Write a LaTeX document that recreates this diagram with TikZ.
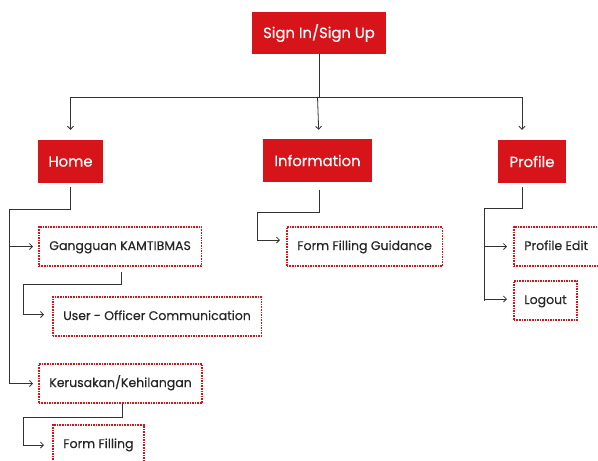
\documentclass[tikz,border=0pt]{standalone}
\usepackage{fontspec}
\setmainfont{Poppins}
\newfontfamily\medfont{Poppins}[FakeBold=0.4]
\usepackage{tikz}
\usetikzlibrary{arrows.meta}
\definecolor{menured}{RGB}{215,20,26}
\definecolor{wire}{RGB}{50,50,50}

\begin{document}
\begin{tikzpicture}[x=1pt,y=-1pt,
    menu/.style={fill=menured, text=white, inner sep=0pt, font=\medfont\fontsize{14.8}{17}\selectfont},
    sub/.style={draw=menured, densely dotted, line width=1.6pt, inner xsep=10.5pt, inner ysep=0pt,
        minimum height=39pt, text height=9.5pt, text depth=2.5pt, anchor=west,
        text=black!85, font=\medfont\fontsize{12.5}{15}\selectfont},
    wire/.style={draw=wire, line width=0.8pt},
    arr/.style={wire, -{Straight Barb[length=3pt,width=6pt]}}]
    \useasboundingbox (0,0) rectangle (598,461);
    % top level
    \node[menu, minimum width=134pt, minimum height=42pt] (signin) at (319,33) {Sign In/Sign Up};
    \node[menu, minimum width=65pt, minimum height=43pt] (home) at (70.5,161.5) {Home};
    \node[menu, minimum width=109pt, minimum height=43pt] (info) at (317.5,160.5) {Information};
    \node[menu, minimum width=68pt, minimum height=43pt] (profile) at (532,161.5) {Profile};
    % sub pages
    \node[sub] (gangguan) at (38,246.5) {Gangguan KAMTIBMAS};
    \node[sub] (user) at (52,316.5) {User - Officer Communication};
    \node[sub] (kerusakan) at (38,383.5) {Kerusakan/Kehilangan};
    \node[sub] (form) at (52,444.5) {Form Filling};
    \node[sub] (guide) at (286,246.5) {Form Filling Guidance};
    \node[sub] (pedit) at (513,246.5) {Profile Edit};
    \node[sub] (logout) at (513,300.5) {Logout};
    % junction points
    \coordinate (bus) at (0,97);
    \coordinate (htrunk) at (9,209);
    \coordinate (gtrunk) at (23,284);
    \coordinate (ktrunk) at (23,417);
    \coordinate (itrunk) at (257,212);
    \coordinate (ptrunk) at (484,208);
    % connectors
    \draw[wire] (signin.south) -- (signin.south |- bus);
    \draw[arr, shorten >=10pt] ([xshift=-10pt]profile.north |- bus) -- (home.north |- bus) -- (home.north);
    \draw[arr, shorten >=9pt] (info.north |- bus) -- ([xshift=1.5pt]info.north);
    \draw[arr, shorten >=10pt] ([xshift=-10pt]profile.north |- bus) -- ([xshift=-10pt]profile.north);
    \draw[wire, shorten <=4pt] (home.south) -- (home.south |- htrunk) -- (htrunk) -- (htrunk |- kerusakan);
    \draw[arr, shorten >=5pt] (htrunk |- gangguan) -- (gangguan.west);
    \draw[arr, shorten >=5pt] (htrunk |- kerusakan) -- (kerusakan.west);
    \draw[arr, shorten <=6pt, shorten >=8pt] (121.7,266) -- (121.7,284) -- (gtrunk) |- ([yshift=2pt]user.west);
    \draw[arr, shorten <=1pt, shorten >=8pt] (122.7,403) -- (122.7,417) -- (ktrunk) |- ([yshift=-0.5pt]form.west);
    \draw[arr, shorten <=8pt, shorten >=6pt] ([xshift=1.5pt]info.south) -- ([xshift=1.5pt]info.south |- itrunk) -- (itrunk) |- ([yshift=6.5pt]guide.west);
    \draw[wire, shorten <=4pt] ([xshift=-10pt]profile.south) -- ([xshift=-10pt]profile.south |- ptrunk) -- (ptrunk) -- (ptrunk |- logout);
    \draw[arr, shorten >=6pt] (ptrunk |- pedit) -- (pedit.west);
    \draw[arr, shorten >=6pt] ([yshift=1.5pt]ptrunk |- logout) -- ([yshift=1.5pt]logout.west);
\end{tikzpicture}
\end{document}
